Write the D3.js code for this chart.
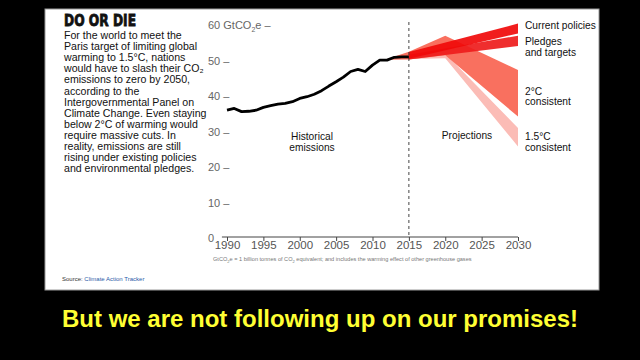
<!DOCTYPE html>
<html><head><meta charset="utf-8">
<script src="https://cdn.jsdelivr.net/npm/d3@7"></script>
<style>
html,body{margin:0;padding:0;background:#000;}
svg{display:block;}
</style></head>
<body>
<svg id="c" width="640" height="360"></svg>
<script>
// ---- data ----
const histYears = [1990,1991,1992,1993,1994,1995,1996,1997,1998,1999,2000,2001,2002,2003,2004,2005,2006,2007,2008,2009,2010,2011,2012,2013,2014,2015];
const histValues = [36.0,36.5,35.6,35.7,36.0,36.8,37.3,37.7,37.9,38.4,39.3,39.8,40.5,41.5,42.8,44.0,45.3,46.9,47.5,46.9,48.7,50.1,50.1,50.9,51.0,51.0];

// projection bands: years, upper, lower
const band15Years = [2015,2020,2030];
const band15Upper = [50.6,52.0,31.0];
const band15Lower = [50.4,50.6,25.8];

const band2Years = [2012,2015,2020,2030];
const band2Upper = [50.4,52.5,57.0,47.3];
const band2Lower = [50.2,50.3,51.5,34.2];

const pledgeYears = [2015,2030];
const pledgeUpper = [51.6,57.0];
const pledgeLower = [50.3,54.1];

const currentYears = [2015,2030];
const currentUpper = [52.4,60.4];
const currentLower = [50.5,57.6];

const yTicks = [0,10,20,30,40,50,60];
const xTicks = [1990,1995,2000,2005,2010,2015,2020,2025,2030];

const bodyLines = [
 "For the world to meet the",
 "Paris target of limiting global",
 "warming to 1.5°C, nations",
 "would have to slash their CO\u2082",
 "emissions to zero by 2050,",
 "according to the",
 "Intergovernmental Panel on",
 "Climate Change. Even staying",
 "below 2°C of warming would",
 "require massive cuts. In",
 "reality, emissions are still",
 "rising under existing policies",
 "and environmental pledges."
];

// ---- drawing ----
const svg = d3.select("#c");
svg.append("rect").attr("width",640).attr("height",360).attr("fill","#000");
svg.append("rect").attr("x",45).attr("y",9).attr("width",554).attr("height",281)
  .attr("fill","#fff").attr("stroke","#9a9a9a").attr("stroke-width",1);

const x = d3.scaleLinear().domain([1990,2030]).range([227,518]);
const y = d3.scaleLinear().domain([0,60]).range([238,25]);

const font = "'Liberation Sans', Arial, sans-serif";

// Title
svg.append("text").attr("x",64).attr("y",26).text("DO OR DIE")
  .attr("font-family","'DejaVu Sans', sans-serif").attr("font-weight",900)
  .attr("font-size",15).attr("textLength",72).attr("lengthAdjust","spacingAndGlyphs")
  .attr("fill","#111").attr("stroke","#111").attr("stroke-width",0.8);

svg.append("g").selectAll("text").data(bodyLines).join("text")
  .attr("x",64).attr("y",(d,i)=>39+i*11.1)
  .attr("font-family",font).attr("font-size",10.6).attr("fill","#111")
  .text(d=>d);

// bands
const bandArea = (yrs,up,lo) => {
  const pts = yrs.map((yr,i)=>({yr,u:up[i],l:lo[i]}));
  return d3.area().x(d=>x(d.yr)).y0(d=>y(d.l)).y1(d=>y(d.u))(pts);
};
svg.append("path").attr("d",bandArea(band15Years,band15Upper,band15Lower)).attr("fill","#fbbcb6");
svg.append("path").attr("d",bandArea(band2Years,band2Upper,band2Lower)).attr("fill","#f9705f");
svg.append("path").attr("d",bandArea(pledgeYears,pledgeUpper,pledgeLower)).attr("fill","#ee1c1c").attr("opacity",0.92);
svg.append("path").attr("d",bandArea(currentYears,currentUpper,currentLower)).attr("fill","#f00a0a").attr("opacity",0.92);

// dashed 2015 line
svg.append("line").attr("x1",x(2015)).attr("x2",x(2015)).attr("y1",22).attr("y2",y(0))
  .attr("stroke","#444").attr("stroke-width",1).attr("stroke-dasharray","3,3");

// historical line
svg.append("path").datum(histYears.map((yr,i)=>[yr,histValues[i]]))
  .attr("d",d3.line().x(d=>x(d[0])).y(d=>y(d[1])))
  .attr("fill","none").attr("stroke","#000").attr("stroke-width",2.8).attr("stroke-linejoin","round");

// x axis
const xa = svg.append("g").attr("transform",`translate(0,${y(0)-1})`)
  .call(d3.axisBottom(x).tickValues(xTicks).tickFormat(d3.format("d")).tickSize(4).tickSizeOuter(0));
xa.select(".domain").attr("d",`M${x(1989.3)},0H${x(2030)}`).attr("stroke","#444");
xa.selectAll(".tick line").attr("stroke","#444");
xa.selectAll(".tick text").attr("font-family",font).attr("font-size",11.5).attr("fill","#555").attr("y",4).attr("dy","0.71em");

// y labels
const yl = svg.append("g");
yTicks.forEach(v=>{
  const t = yl.append("text").attr("x",208).attr("y",y(v)+4)
    .attr("font-family",font).attr("font-size",11).attr("fill","#666");
  if(v===0){ t.text("0"); }
  else if(v===60){
    t.append("tspan").text("60 GtCO");
    t.append("tspan").text("2").attr("font-size",7).attr("dy",3);
    t.append("tspan").text("e \u2013").attr("dy",-3);
  } else t.text(v+" \u2013");
});

// annotations
const ann = (tx,xx,yy,anchor)=>svg.append("text").attr("x",xx).attr("y",yy).attr("text-anchor",anchor||"start")
  .attr("font-family",font).attr("font-size",10.2).attr("fill","#111").text(tx);
ann("Historical",312,140,"middle");
ann("emissions",312,151,"middle");
ann("Projections",467,139,"middle");
ann("Current policies",525,29);
ann("Pledges",525,45);
ann("and targets",525,56);
ann("2°C",525,95);
ann("consistent",525,105);
ann("1.5°C",525,140);
ann("consistent",525,151);

// caption
const cap = svg.append("text").attr("x",213).attr("y",261).attr("font-family",font).attr("font-size",5.6).attr("fill","#777");
cap.append("tspan").text("GtCO");
cap.append("tspan").text("2").attr("font-size",4).attr("dy",1.5);
cap.append("tspan").text("e = 1 billion tonnes of CO").attr("dy",-1.5);
cap.append("tspan").text("2").attr("font-size",4).attr("dy",1.5);
cap.append("tspan").text(" equivalent; and includes the warming effect of other greenhouse gases").attr("dy",-1.5);

const src = svg.append("text").attr("x",62).attr("y",281).attr("font-family",font).attr("font-size",6);
src.append("tspan").text("Source: ").attr("fill","#333");
src.append("tspan").text("Climate Action Tracker").attr("fill","#2a5aa8");

// bottom slogan
svg.append("text").attr("x",320).attr("y",327).attr("text-anchor","middle")
  .attr("font-family",font).attr("font-weight","bold").attr("font-size",24).attr("fill","#ffff33")
  .text("But we are not following up on our promises!");
</script>
</body></html>
